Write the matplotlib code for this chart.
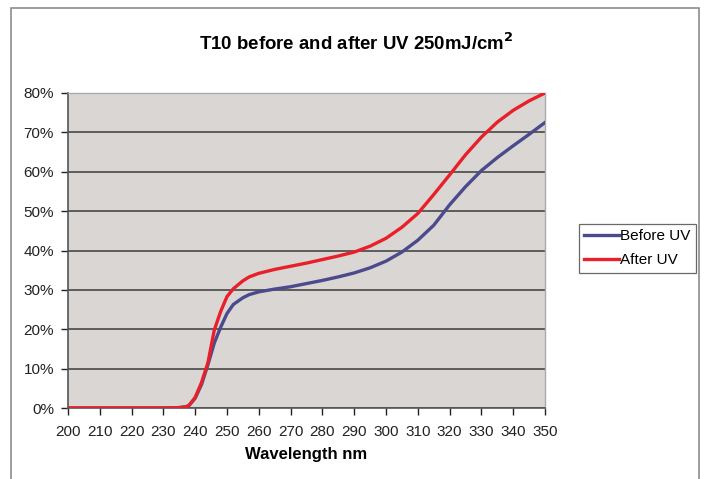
import matplotlib
matplotlib.use("Agg")
import matplotlib.pyplot as plt
from matplotlib.patches import Rectangle
from matplotlib.ticker import PercentFormatter

wavelength = [200, 210, 220, 230, 235, 237, 238, 240, 242, 244, 246, 248, 250, 252, 255, 257,
              260, 265, 270, 275, 280, 285, 290, 295, 300, 305, 310, 315, 320, 325, 330, 335,
              340, 345, 350]
before_uv = [0, 0, 0, 0, 0.1, 0.3, 0.6, 2.5, 6.0, 11.0, 16.5, 20.5, 24.0, 26.3, 28.0, 28.8,
             29.5, 30.2, 30.8, 31.6, 32.4, 33.3, 34.3, 35.6, 37.3, 39.6, 42.6, 46.4, 51.6, 56.2, 60.3, 63.6,
             66.6, 69.5, 72.5]
after_uv = [0, 0, 0, 0, 0.1, 0.3, 0.6, 2.7, 6.5, 11.5, 19.8, 24.5, 28.3, 30.3, 32.3, 33.3,
            34.2, 35.2, 36.0, 36.8, 37.7, 38.6, 39.6, 41.1, 43.1, 45.9, 49.4, 54.2, 59.2, 64.3, 68.8, 72.6,
            75.6, 78.0, 80.0]
xticks = list(range(200, 351, 10))
yticks = list(range(0, 81, 10))

plt.rcParams['font.family'] = ['Liberation Sans', 'DejaVu Sans']

fig = plt.figure(figsize=(7.07, 4.79), dpi=100)
fig.patch.set_facecolor('white')
fig.add_artist(Rectangle((11/707, -0.1), (699-11)/707, 1.1 - 8/479,
                         transform=fig.transFigure, fill=False,
                         edgecolor='#8c8c8c', linewidth=1.2))

ax = fig.add_axes([68/707, (479-408)/479, (545-68)/707, (408-93)/479])
ax.set_facecolor('#dad6d3')
ax.plot(wavelength, before_uv, color='#4a4a8c', linewidth=2.4, label='Before UV', zorder=3)
ax.plot(wavelength, after_uv, color='#e8202a', linewidth=2.4, label='After UV', zorder=4)

ax.set_xlim(200, 350)
ax.set_ylim(0, 80)
ax.set_xticks(xticks)
ax.set_yticks(yticks)
ax.yaxis.set_major_formatter(PercentFormatter(decimals=0))
ax.grid(axis='y', color='#3c3c3c', linewidth=1.1)
ax.set_axisbelow(True)
ax.tick_params(axis='both', labelsize=11, colors='#222222', length=5, width=1, direction='out')
ax.tick_params(axis='x', pad=7)
ax.tick_params(axis='y', pad=5)
for s in ['left', 'bottom']:
    ax.spines[s].set_color('#555555')
    ax.spines[s].set_linewidth(1.2)
for s in ['top', 'right']:
    ax.spines[s].set_color('#aaaaaa')
    ax.spines[s].set_linewidth(1.0)

ax.set_xlabel('Wavelength nm', fontsize=12, fontweight='bold', labelpad=6)
fig.text(356/707, 1 - 43/479, r'T10 before and after UV 250mJ/cm$^\mathbf{2}$',
         ha='center', va='center', fontsize=13.4, fontweight='bold')

leg = ax.legend(loc='upper left', bbox_to_anchor=(579/707, 1 - 224/479),
                bbox_transform=fig.transFigure, fontsize=11, frameon=True,
                fancybox=False, handlelength=2.25, handletextpad=0.1,
                borderpad=0.35, labelspacing=0.65, borderaxespad=0)
leg.get_frame().set_edgecolor('#444444')
leg.get_frame().set_linewidth(0.9)

fig.savefig('out.png', dpi=100, facecolor='white')
